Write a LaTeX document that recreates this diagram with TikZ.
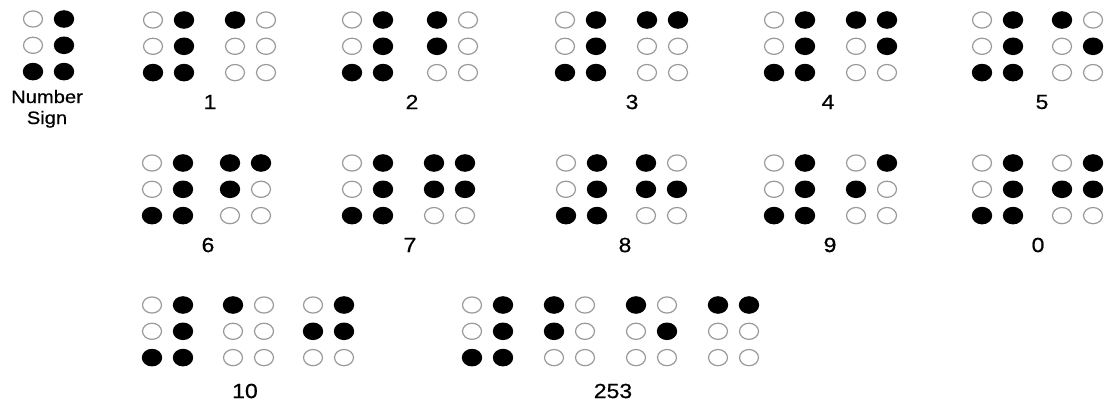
\documentclass[tikz,border=0pt]{standalone}
\usepackage{fontspec}
\setmainfont{Liberation Sans}[FakeBold=0.6]
\tikzset{
  fulldot/.style={fill=black},
  emptydot/.style={draw=black!40, line width=1.2pt},
  lbl/.style={font=\fontsize{20.5}{24}\selectfont, inner sep=0pt, xscale=1.12},
  nslbl/.style={font=\fontsize{18}{21}\selectfont, inner sep=0pt, xscale=1.12, anchor=base}
}
\newcommand\bdot[3]{%
  \ifnum#3=1
    \fill[fulldot] (#1,#2) ellipse [x radius=10.2pt, y radius=8.8pt];
  \else
    \draw[emptydot] (#1,#2) ellipse [x radius=9.5pt, y radius=8.1pt];
  \fi}
% \brl{x}{y}{d1}{d2}{d3}{d4}{d5}{d6}
\newcommand\brl[8]{%
  \bdot{#1}{#2}{#3}%
  \bdot{#1}{#2+26.3}{#4}%
  \bdot{#1}{#2+52.6}{#5}%
  \bdot{#1+31}{#2}{#6}%
  \bdot{#1+31}{#2+26.3}{#7}%
  \bdot{#1+31}{#2+52.6}{#8}}
\begin{document}
\begin{tikzpicture}[x=1pt,y=-1pt]
\useasboundingbox (0,0) rectangle (1107,404);
% Number sign
\brl{33}{19}{0}{0}{1}{1}{1}{1}
\node[nslbl] (ns1) at (47,103) {Number};
\node[nslbl] (ns2) at (47,124) {Sign};
% Row 1
\brl{153}{20}{0}{0}{1}{1}{1}{1}\brl{235}{20}{1}{0}{0}{0}{0}{0}
\node[lbl] (l1) at (210,102) {1};
\brl{352}{20}{0}{0}{1}{1}{1}{1}\brl{437}{20}{1}{1}{0}{0}{0}{0}
\node[lbl] (l2) at (412,102) {2};
\brl{565}{20}{0}{0}{1}{1}{1}{1}\brl{647}{20}{1}{0}{0}{1}{0}{0}
\node[lbl] (l3) at (632,102) {3};
\brl{774}{20}{0}{0}{1}{1}{1}{1}\brl{856}{20}{1}{0}{0}{1}{1}{0}
\node[lbl] (l4) at (828,102) {4};
\brl{982}{20}{0}{0}{1}{1}{1}{1}\brl{1062}{20}{1}{0}{0}{0}{1}{0}
\node[lbl] (l5) at (1042,102) {5};
% Row 2
\brl{152}{163}{0}{0}{1}{1}{1}{1}\brl{230}{163}{1}{1}{0}{1}{0}{0}
\node[lbl] (l6) at (208,245) {6};
\brl{352}{163}{0}{0}{1}{1}{1}{1}\brl{434}{163}{1}{1}{0}{1}{1}{0}
\node[lbl] (l7) at (410,245) {7};
\brl{566}{163}{0}{0}{1}{1}{1}{1}\brl{646}{163}{1}{1}{0}{0}{1}{0}
\node[lbl] (l8) at (625,245) {8};
\brl{774}{163}{0}{0}{1}{1}{1}{1}\brl{856}{163}{0}{1}{0}{1}{0}{0}
\node[lbl] (l9) at (830,245) {9};
\brl{982}{163}{0}{0}{1}{1}{1}{1}\brl{1062}{163}{0}{1}{0}{1}{1}{0}
\node[lbl] (l0) at (1038,245) {0};
% Row 3
\brl{152}{305}{0}{0}{1}{1}{1}{1}\brl{233}{305}{1}{0}{0}{0}{0}{0}\brl{313}{305}{0}{1}{0}{1}{1}{0}
\node[lbl] (l10) at (245,391) {10};
\brl{472}{305}{0}{0}{1}{1}{1}{1}\brl{554}{305}{1}{1}{0}{0}{0}{0}\brl{636}{305}{1}{0}{0}{0}{1}{0}\brl{718}{305}{1}{0}{0}{1}{0}{0}
\node[lbl] (l253) at (613,391) {253};
\end{tikzpicture}
\end{document}
